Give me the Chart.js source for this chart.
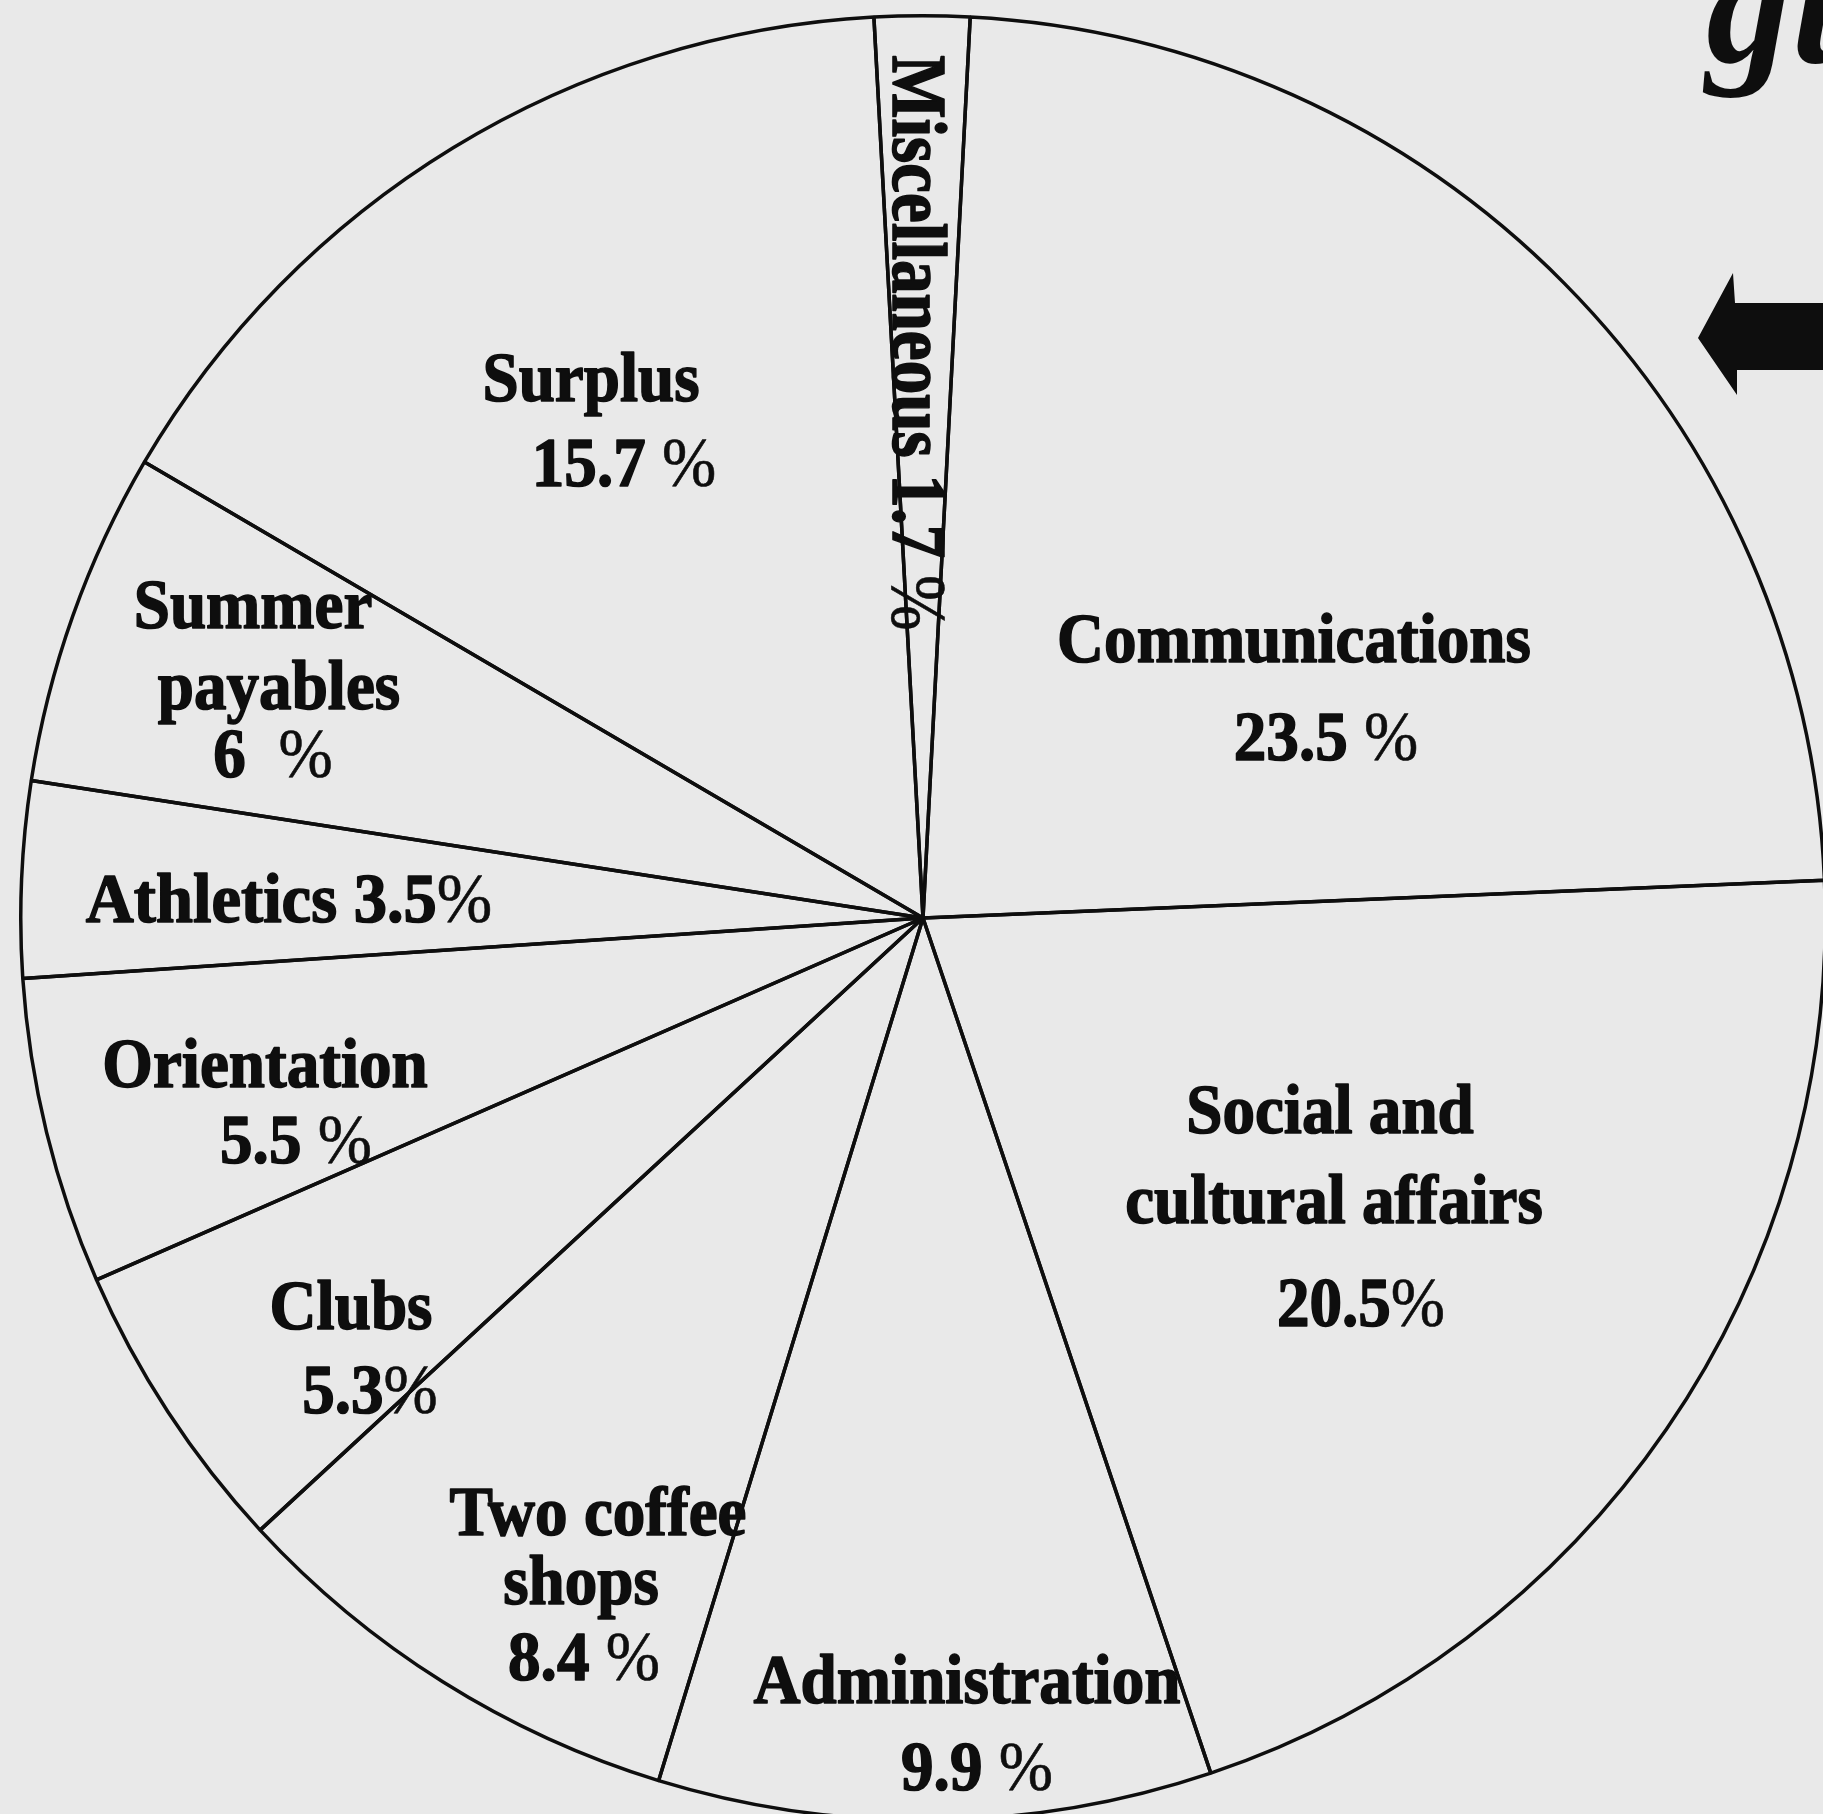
<!DOCTYPE html>
<html><head><meta charset="utf-8">
<script src="https://cdn.jsdelivr.net/npm/chart.js@4"></script>
<style>
html,body{margin:0;padding:0;background:#e9e9e9;width:1823px;height:1814px;overflow:hidden;position:relative}
#wrap{position:absolute;left:19px;top:14px;width:1808px;height:1808px}
#deco{position:absolute;left:0;top:0;pointer-events:none}
</style></head><body>
<div id="wrap"><canvas id="c" width="1808" height="1808"></canvas></div>
<canvas id="deco" width="1823" height="1814"></canvas>
<script>
// ---- data ----
const categories = ["Communications", "Social and cultural affairs", "Administration", "Two coffee shops", "Clubs", "Orientation", "Athletics", "Summer payables", "Surplus", "Miscellaneous"];
const values = [23.5, 20.5, 9.9, 8.4, 5.3, 5.5, 3.5, 6, 15.7, 1.7];
const percentText = ["23.5 %", "20.5%", "9.9 %", "8.4 %", "5.3%", "5.5 %", "3.5%", "6  %", "15.7 %", "1.7 %"];
const nameLines = [["Communications"], ["Social and", "cultural affairs"], ["Administration"], ["Two coffee", "shops"], ["Clubs"], ["Orientation"], ["Athletics"], ["Summer", "payables"], ["Surplus"], ["Miscellaneous"]];

// ---- layout / style (not data) ----
const INK = "#0e0e0e";
const FONT = '"Liberation Serif", "Times New Roman", serif';
const inlinePct = [false, false, false, false, false, false, true, false, false, true];
// baseline-centre offsets of each text line from the pie centre (px)
const anchors = [
  [[371, -256], [403, -158]],
  [[407, 215], [411, 305], [438, 408]],
  [[44, 785], [54, 872]],
  [[-325, 617], [-342, 686], [-339, 762]],
  [[-572, 411], [-553, 495]],
  [[-658, 169], [-627, 245]],
  [[-634, 4]],
  [[-670, -290], [-644, -209], [-650, -141]],
  [[-332, -517], [-299, -432]],
  [[-30, -575]]
];
const turn = [0, 0, 0, 0, 0, 0, 0, 0, 0, Math.PI / 2];
const fontSize = [70, 70, 70, 70, 70, 70, 70, 70, 70, 78];
const squeeze = [0.93, 0.93, 0.93, 0.93, 0.93, 0.93, 0.95, 0.93, 0.93, 0.86];

function textLines(i) {
  const lines = nameLines[i].slice();
  if (inlinePct[i]) lines[lines.length - 1] += " " + percentText[i];
  else lines.push(percentText[i]);
  return lines;
}

function drawLine(ctx, txt, x, y, angle, size, sx) {
  const k = txt.lastIndexOf('%');
  const pre = k >= 0 ? txt.slice(0, k) : txt;
  const suf = k >= 0 ? '%' : '';
  const bold = `bold ${size}px ${FONT}`;
  const reg = `${size}px ${FONT}`;
  ctx.font = bold;
  const w1 = ctx.measureText(pre).width;
  ctx.font = reg;
  const w2 = suf ? ctx.measureText(suf).width : 0;
  const total = w1 + w2;
  ctx.save();
  ctx.translate(x, y);
  ctx.rotate(angle);
  ctx.scale(sx, 1);
  ctx.textAlign = 'left';
  ctx.textBaseline = 'alphabetic';
  ctx.lineJoin = 'round';
  ctx.font = bold;
  ctx.lineWidth = 1.6;
  ctx.fillText(pre, -total / 2, 0);
  ctx.strokeText(pre, -total / 2, 0);
  if (suf) { ctx.font = reg; ctx.lineWidth = 0.6; ctx.fillText(suf, -total / 2 + w1, 0); ctx.strokeText(suf, -total / 2 + w1, 0); }
  ctx.restore();
}

const labelPlugin = {
  id: 'sliceLabels',
  afterDatasetsDraw(chart) {
    const arc = chart.getDatasetMeta(0).data[0];
    const cx = arc.x, cy = arc.y;
    const ctx = chart.ctx;
    ctx.save();
    ctx.fillStyle = INK;
    ctx.strokeStyle = INK;
    categories.forEach((c, i) => {
      textLines(i).forEach((t, j) => {
        const [dx, dy] = anchors[i][j];
        drawLine(ctx, t, cx + dx, cy + dy, turn[i], fontSize[i], squeeze[i]);
      });
    });
    ctx.restore();
  }
};

new Chart(document.getElementById('c'), {
  type: 'pie',
  data: {
    labels: categories,
    datasets: [{
      data: values,
      backgroundColor: 'rgba(0,0,0,0)',
      borderColor: INK,
      borderWidth: 3.5,
      hoverOffset: 0
    }]
  },
  options: {
    responsive: false,
    animation: false,
    rotation: 3,
    layout: { padding: 0 },
    events: [],
    plugins: { legend: { display: false }, tooltip: { enabled: false } }
  },
  plugins: [labelPlugin]
});

// page decoration outside the chart (cut-off heading and arrow)
const d = document.getElementById('deco').getContext('2d');
d.fillStyle = INK;
d.font = `bold italic 170px ${FONT}`;
d.textBaseline = 'alphabetic';
d.fillText("gu", 1706, 62);
d.beginPath();
d.moveTo(1698, 338);
d.lineTo(1733, 273);
d.lineTo(1735, 303);
d.lineTo(1823, 303);
d.lineTo(1823, 370);
d.lineTo(1737, 370);
d.lineTo(1737, 395);
d.closePath();
d.fill();
</script>
</body></html>
